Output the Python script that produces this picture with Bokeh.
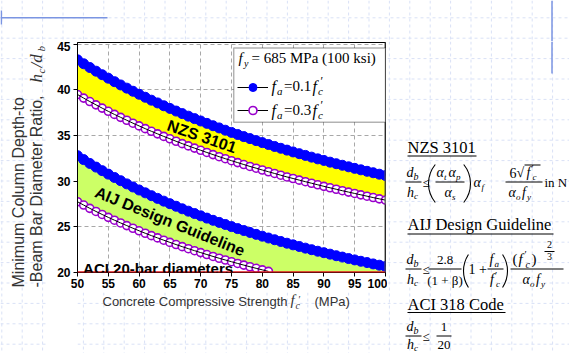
import math
from bokeh.plotting import figure
from bokeh.models import Label, Span, BoxAnnotation, Legend, LegendItem, Range1d
from bokeh.layouts import row, column
from bokeh.core.properties import value
from bokeh.embed import file_html
from bokeh.resources import INLINE

# ---------------- data ----------------
fc = list(range(50, 101))
nzs_01 = [43.30, 42.87, 42.46, 42.06, 41.67, 41.29, 40.91, 40.55, 40.20, 39.86,
          39.53, 39.20, 38.88, 38.58, 38.27, 37.98, 37.69, 37.41, 37.13, 36.86,
          36.60, 36.34, 36.08, 35.84, 35.59, 35.35, 35.12, 34.89, 34.67, 34.45,
          34.23, 34.02, 33.81, 33.61, 33.41, 33.21, 33.02, 32.83, 32.64, 32.45,
          32.28, 32.09, 31.92, 31.75, 31.58, 31.41, 31.25, 31.09, 30.93, 30.77, 30.62]
nzs_03 = [39.50, 39.11, 38.73, 38.37, 38.01, 37.66, 37.32, 37.00, 36.68, 36.36,
          36.06, 35.76, 35.47, 35.19, 34.91, 34.65, 34.38, 34.12, 33.87, 33.63,
          33.39, 33.15, 32.92, 32.69, 32.47, 32.25, 32.04, 31.83, 31.62, 31.43,
          31.23, 31.04, 30.85, 30.66, 30.47, 30.30, 30.12, 29.95, 29.78, 29.61,
          29.44, 29.28, 29.12, 28.96, 28.81, 28.66, 28.51, 28.36, 28.21, 28.07, 27.93]
aij_01 = [32.80, 32.37, 31.95, 31.55, 31.16, 30.78, 30.41, 30.06, 29.71, 29.37,
          29.04, 28.73, 28.42, 28.12, 27.82, 27.54, 27.26, 26.98, 26.72, 26.46,
          26.21, 25.96, 25.72, 25.49, 25.26, 25.03, 24.81, 24.60, 24.39, 24.18,
          23.98, 23.78, 23.59, 23.40, 23.21, 23.03, 22.85, 22.67, 22.50, 22.33,
          22.17, 22.01, 21.84, 21.69, 21.53, 21.38, 21.23, 21.09, 20.94, 20.80, 20.66]
fc_aij03 = list(range(50, 82))
aij_03 = [27.75, 27.39, 27.03, 26.69, 26.36, 26.04, 25.73, 25.43, 25.14, 24.85,
          24.57, 24.30, 24.04, 23.79, 23.54, 23.30, 23.06, 22.83, 22.61, 22.39,
          22.18, 21.97, 21.76, 21.56, 21.37, 21.18, 20.99, 20.81, 20.63, 20.46,
          20.29, 20.12]
aci_limit = 20
x_ticks = [50, 55, 60, 65, 70, 75, 80, 85, 90, 95, 100]
y_ticks = [20, 25, 30, 35, 40, 45]

# lower edge of the AIJ band: the 0.3 f'c curve, then the ACI limit
aij_lower = aij_03 + [aci_limit] * (len(fc) - len(aij_03))

GRID_C = "#d9e1f6"
SLIDE_C = "#7b95e2"
PH = 353  # page height


def Y(py):
    return PH - py


# ---------------- text canvases (page-pixel coordinates) ----------------
def canvas(x0, x1, y0, y1, bl=0, br=0):
    f = figure(width=x1 - x0 + bl + br, height=y1 - y0, output_backend="svg",
               toolbar_location=None, x_range=Range1d(x0, x1),
               y_range=Range1d(Y(y1), Y(y0)), x_axis_location=None,
               y_axis_location=None, min_border=0, min_border_left=bl,
               min_border_right=br, outline_line_color=None,
               background_fill_color="white", border_fill_color="white")
    f.grid.visible = False
    vx = [1.3 + 20.4 * k for k in range(28) if x0 <= 1.3 + 20.4 * k <= x1]
    hy = [17.3 + 20.4 * k for k in range(18) if y0 <= 17.3 + 20.4 * k <= y1]
    if vx:
        f.segment(x0=vx, y0=[Y(y0)] * len(vx), x1=vx, y1=[Y(y1)] * len(vx),
                  line_color=GRID_C, line_dash="3 3", line_width=1)
    if hy:
        f.segment(x0=[x0] * len(hy), y0=[Y(v) for v in hy], x1=[x1] * len(hy),
                  y1=[Y(v) for v in hy], line_color=GRID_C, line_dash="3 3",
                  line_width=1)
    return f


def T(f, px, py, text, size=14, font="Liberation Serif", style="normal",
      align="left", color="black", angle=0, mid=False):
    # py is the text baseline unless mid=True (then it is the centre line)
    yc = py if mid else py - 0.34 * size
    f.add_layout(Label(x=px, y=Y(yc), text=text, text_font=font,
                       text_font_size=f"{size}px", text_font_style=style,
                       text_align=align, text_baseline="middle",
                       text_color=color, angle=angle, angle_units="deg"))


def L(f, x0, y0, x1, y1, color="black", width=1):
    f.segment(x0=[x0], y0=[Y(y0)], x1=[x1], y1=[Y(y1)], line_color=color,
              line_width=width)


def paren(f, xb, ytop, ybot, left=True, r=30.0):
    h = (ybot - ytop) / 2.0
    th = math.asin(min(h / r, 0.99))
    yc = Y((ytop + ybot) / 2.0)
    if left:
        f.arc(x=[xb + r], y=[yc], radius=r, start_angle=math.pi - th,
              end_angle=math.pi + th, line_color="black", line_width=1.1)
    else:
        f.arc(x=[xb - r], y=[yc], radius=r, start_angle=-th, end_angle=th,
              line_color="black", line_width=1.1)


# ---------------- chart ----------------
p = figure(width=340, height=251, output_backend="svg", toolbar_location=None,
           x_range=(50, 100), y_range=(20, 45.2),
           min_border_left=30, min_border_right=2, min_border_top=1,
           min_border_bottom=20, background_fill_color="white",
           border_fill_color="white")
p.outline_line_color = "black"
p.outline_line_width = 1

for ax in (p.xaxis, p.yaxis):
    ax.major_label_text_font = "Liberation Sans"
    ax.major_label_text_font_style = "bold"
    ax.major_label_text_font_size = "12px"
    ax.major_label_text_color = "black"
    ax.major_tick_out = 4
    ax.major_tick_in = 0
    ax.minor_tick_out = 0
    ax.minor_tick_in = 0
    ax.axis_line_color = "black"
    ax.major_tick_line_color = "black"
p.xaxis.ticker = x_ticks
p.yaxis.ticker = y_ticks
p.xaxis.major_label_standoff = 2
p.yaxis.major_label_standoff = 3

p.xgrid.ticker = x_ticks
p.ygrid.ticker = y_ticks
p.grid.grid_line_color = "#a8a8a8"
p.grid.grid_line_dash = "4 3"
p.grid.grid_line_width = 1

# bands
p.varea(x=fc, y1=nzs_03, y2=nzs_01, fill_color="#ffff00")
p.varea(x=fc, y1=aij_lower, y2=aij_01, fill_color="#ccff66")

BLUE = "#0000ff"
PURPLE = "#9900cc"

# 0.3 f'c curves (open circles)
sp1 = p.scatter(fc, nzs_03, marker="circle", size=8, fill_color="white",
                line_color=PURPLE, line_width=1.6)
lp1 = p.line(fc, nzs_03, line_color="black", line_width=1)
p.scatter(fc_aij03, aij_03, marker="circle", size=8, fill_color="white",
          line_color=PURPLE, line_width=1.6)
p.line(fc_aij03, aij_03, line_color="black", line_width=1)

# 0.1 f'c curves (filled circles)
lb1 = p.line(fc, nzs_01, line_color="black", line_width=1)
sb1 = p.scatter(fc, nzs_01, marker="circle", size=10, fill_color=BLUE,
                line_color=BLUE)
p.line(fc, aij_01, line_color="black", line_width=1)
p.scatter(fc, aij_01, marker="circle", size=10, fill_color=BLUE, line_color=BLUE)

# ACI limit and heavier right frame edge
p.add_layout(Span(location=aci_limit, dimension="width", line_color="#e0161c",
                  line_width=2.5))
p.add_layout(Span(location=100, dimension="height", line_color="#555555",
                  line_width=2))

# in-plot labels
p.add_layout(Label(x=70.2, y=34.9, text="NZS 3101", angle=-19, angle_units="deg",
                   text_align="center", text_baseline="middle",
                   text_font="Liberation Sans", text_font_style="bold",
                   text_font_size="16px", text_color="black"))
p.add_layout(Label(x=65.0, y=25.6, text="AIJ Design Guideline", angle=-22,
                   angle_units="deg", text_align="center", text_baseline="middle",
                   text_font="Liberation Sans", text_font_style="bold",
                   text_font_size="16px", text_color="black"))
p.add_layout(Label(x=50.9, y=20.45, text="ACI 20-bar diameters",
                   text_align="left", text_baseline="alphabetic",
                   text_font="Liberation Sans", text_font_style="bold",
                   text_font_size="15px", text_color="black"))

# legend: box + glyph samples + math-style texts (frame screen units)
FL, FB = 77, 272
p.add_layout(BoxAnnotation(left=75.36, right=100, top=44.6, bottom=36.45,
                           fill_color="white", fill_alpha=1,
                           line_color="black", line_width=1.5))
legend = Legend(items=[LegendItem(label=value(" "), renderers=[lb1, sb1]),
                       LegendItem(label=value(" "), renderers=[lp1, sp1])],
                location=(160, 152), padding=0, margin=0, spacing=3,
                glyph_width=31, glyph_height=20, label_height=20,
                label_width=5, label_standoff=0, label_text_font_size="8px",
                border_line_alpha=0, background_fill_alpha=0)
p.add_layout(legend)


def TS(px, py, text, size=14, style="normal", font="Liberation Serif"):
    yc = py - 0.34 * size
    p.add_layout(Label(x=px - FL, y=FB - yc, x_units="screen", y_units="screen",
                       text=text, text_font=font, text_font_size=f"{size}px",
                       text_font_style=style, text_color="black",
                       text_baseline="middle"))


TS(238, 63, "f", 15, "italic")
TS(243.5, 66, "y", 10, "italic")
TS(251, 63, "= 685 MPa (100 ksi)", 15)
for by, val in ((91, "0.1"), (115, "0.3")):
    TS(271, by, "f", 16, "italic")
    TS(276.5, by + 3, "a", 11, "italic")
    TS(283.5, by, "=", 15)
    TS(292, by, val, 15)
    TS(312, by, "f", 16, "italic")
    TS(317.5, by + 3, "c", 11, "italic")
    TS(320, by - 6, "\u2032", 12)

# ---------------- surrounding canvases ----------------
AX_C = "#333333"

# top strip across the page
ct = canvas(0, 569, 0, 41)
L(ct, 0, 17.3, 107, 17.3, SLIDE_C, 1.5)
L(ct, 551.5, 0, 551.5, 41, SLIDE_C, 1.5)
L(ct, 0.8, 10, 0.8, 24, SLIDE_C, 1.6)

# left: y-axis title
cy = canvas(0, 47, 41, 353)
T(cy, 18, 287, "Minimum Column Depth-to", 16, font="Liberation Sans",
  color=AX_C, angle=90, mid=True)
T(cy, 36, 287, "-Beam Bar Diameter Ratio,", 16, font="Liberation Sans",
  color=AX_C, angle=90, mid=True)
T(cy, 36, 82, "h", 17, style="italic", color=AX_C, angle=90, mid=True)
T(cy, 40.5, 73, "c", 11, style="italic", color=AX_C, angle=90, mid=True)
T(cy, 36, 67, "/d", 17, style="italic", color=AX_C, angle=90, mid=True)
T(cy, 40.5, 51, "b", 11, style="italic", color=AX_C, angle=90, mid=True)

# bottom: x-axis title (frame aligned with the chart frame)
cx = canvas(77, 385, 292, 353, bl=30, br=2)
T(cx, 102, 305, "Concrete Compressive Strength", 13, font="Liberation Sans",
  color=AX_C)
T(cx, 290, 305, "f", 15, style="italic", color=AX_C)
T(cx, 295, 308, "c", 10, style="italic", color=AX_C)
T(cx, 298, 298.5, "\u2032", 10, color=AX_C, mid=True)
T(cx, 314, 305, "(MPa)", 13, font="Liberation Sans", color=AX_C)

# right: design equations
ce = canvas(387, 569, 41, 353)
L(ce, 551.5, 41, 551.5, 73, SLIDE_C, 1.5)
T(ce, 407, 152.5, "NZS 3101", 16.5)
L(ce, 407, 155.5, 476, 155.5)
T(ce, 407, 230, "AIJ Design Guideline", 16.5)
L(ce, 407, 233.5, 553, 233.5)
T(ce, 407, 309.5, "ACI 318 Code", 16.5)
L(ce, 407, 312, 505, 312)


def dbhc(nb, bar, db_):
    T(ce, 406, nb, "d", 14, style="italic")
    T(ce, 413, nb + 2.5, "b", 10, style="italic")
    L(ce, 405, bar, 421, bar)
    T(ce, 406.5, db_, "h", 14, style="italic")
    T(ce, 413.5, db_ + 2, "c", 9, style="italic")
    T(ce, 422, bar + 0.5, "\u2264", 13, mid=True)


# NZS 3101
dbhc(177, 181.5, 197)
paren(ce, 428, 164, 202, left=True)
T(ce, 436, 177, "\u03b1", 14, style="italic")
T(ce, 443.5, 179.5, "t", 9, style="italic")
T(ce, 448, 177, "\u03b1", 14, style="italic")
T(ce, 455.5, 179.5, "p", 9, style="italic")
L(ce, 435, 181.5, 464, 181.5)
T(ce, 444, 197, "\u03b1", 14, style="italic")
T(ce, 451.5, 199.5, "s", 9, style="italic")
paren(ce, 470, 164, 202, left=False)
T(ce, 473, 187, "\u03b1", 14, style="italic")
T(ce, 481, 189.5, "f", 9, style="italic")
T(ce, 509, 177, "6", 14)
T(ce, 516, 177, "\u221a", 14)
L(ce, 524, 164.5, 540, 164.5)
T(ce, 526, 177, "f", 14, style="italic")
T(ce, 531, 171, "\u2032", 10)
T(ce, 532, 179.5, "c", 9, style="italic")
L(ce, 505, 181.5, 542, 181.5)
T(ce, 508, 197, "\u03b1", 14, style="italic")
T(ce, 515.5, 199.5, "o", 9, style="italic")
T(ce, 521.5, 197, "f", 14, style="italic")
T(ce, 526.5, 199.5, "y", 9, style="italic")
T(ce, 544, 186, "in N", 13)

# AIJ
dbhc(264, 268.5, 284)
T(ce, 444.5, 264, "2.8", 13, align="center")
L(ce, 428, 268.5, 461, 268.5)
T(ce, 444.5, 284, "(1 + \u03b2)", 13, align="center")
paren(ce, 463, 254, 287, left=True)
T(ce, 468, 269, "1 +", 14, mid=True)
T(ce, 489, 264, "f", 14, style="italic")
T(ce, 494, 266.5, "a", 9, style="italic")
L(ce, 487, 268.5, 503, 268.5)
T(ce, 489.5, 284, "f", 14, style="italic")
T(ce, 494.5, 278, "\u2032", 10)
T(ce, 495.5, 286.5, "c", 9, style="italic")
paren(ce, 507, 254, 287, left=False)
T(ce, 512, 264, "(", 15)
T(ce, 518, 264, "f", 15, style="italic")
T(ce, 524, 257.5, "\u2032", 10)
T(ce, 525, 267, "c", 10, style="italic")
T(ce, 531, 264, ")", 15)
T(ce, 549, 247, "2", 10, align="center")
L(ce, 544, 251, 554, 251)
T(ce, 549, 259, "3", 10, align="center")
L(ce, 510, 268.5, 563, 268.5)
T(ce, 522, 284, "\u03b1", 14, style="italic")
T(ce, 529.5, 286.5, "o", 9, style="italic")
T(ce, 535.5, 284, "f", 14, style="italic")
T(ce, 540.5, 286.5, "y", 9, style="italic")

# ACI 318
dbhc(331, 335.5, 348.5)
T(ce, 443.5, 331, "1", 13, align="center")
L(ce, 436, 335.5, 451, 335.5)
T(ce, 443.5, 348.5, "20", 13, align="center")

layout = column(ct, row(cy, column(p, cx), ce))
open("out.html", "w").write(file_html(layout, INLINE))
